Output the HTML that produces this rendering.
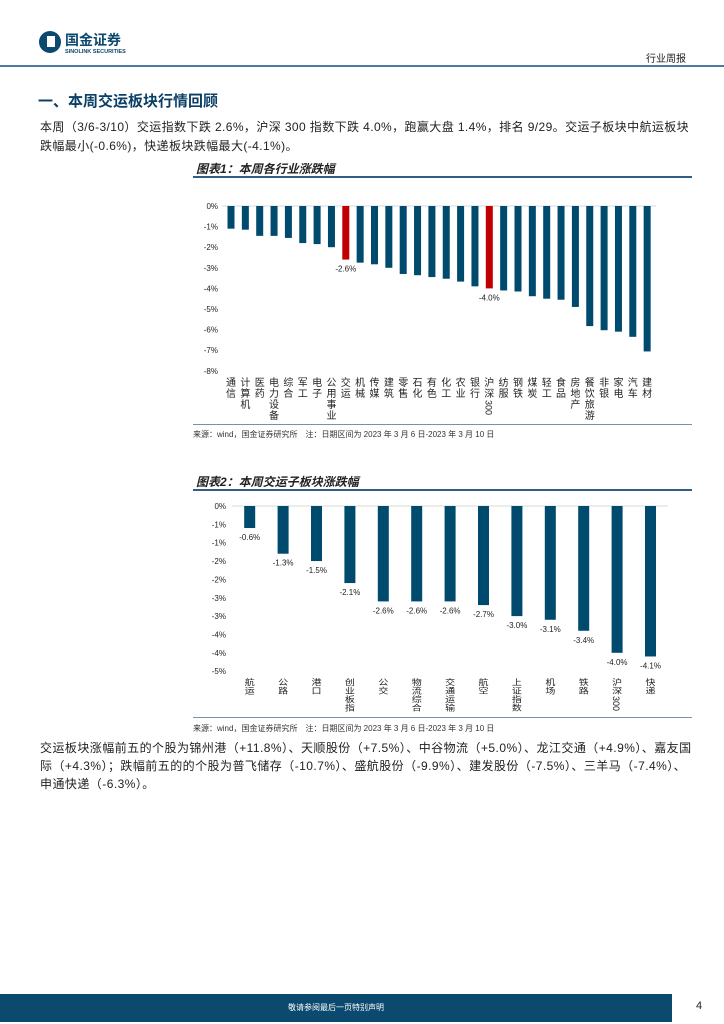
<!DOCTYPE html>
<html><head><meta charset="utf-8">
<style>
html,body{margin:0;padding:0;background:#fff;}
body{width:724px;height:1024px;position:relative;overflow:hidden;font-family:"Liberation Sans","Noto Sans CJK SC",sans-serif;color:#222;}
.abs{position:absolute;}
.p{font-size:12px;line-height:19px;left:40px;width:660px;white-space:nowrap;font-family:"Liberation Sans","Noto Sans CJK SC",sans-serif;}
.ttl{font-size:12px;font-weight:bold;font-style:italic;left:196px;}
.src{font-size:8px;left:193px;color:#333;}
</style></head><body>
<div class="abs" style="left:38px;top:30px;width:110px;height:24px;">
  <svg width="110" height="24"><circle cx="12" cy="12" r="11" fill="#0b4a6e"/><rect x="9" y="6" width="8" height="11" fill="#fff"/><text x="27" y="15" font-size="14" font-weight="bold" fill="#0b4a6e" font-family="Noto Sans CJK SC,sans-serif">国金证券</text><text x="27" y="23" font-size="5.5" font-weight="bold" fill="#0b4a6e" font-family="Liberation Sans,sans-serif">SINOLINK SECURITIES</text></svg>
</div>
<div class="abs" style="left:646px;top:50px;font-size:10px;">行业周报</div>
<div class="abs" style="left:0;top:65px;width:724px;height:2px;background:#4e7aa0;"></div>
<div class="abs" style="left:38px;top:90px;font-size:15px;font-weight:bold;color:#0b3f66;">一、本周交运板块行情回顾</div>
<div class="abs p" style="top:118px;letter-spacing:0.4px;">本周（3/6-3/10）交运指数下跌 2.6%，沪深 300 指数下跌 4.0%，跑赢大盘 1.4%，排名 9/29。交运子板块中航运板块<br>跌幅最小(-0.6%)，快递板块跌幅最大(-4.1%)。</div>
<div class="abs ttl" style="top:160px;">图表1：本周各行业涨跌幅</div>
<div class="abs" style="left:193px;top:176px;width:499px;height:2px;background:#2f5f86;"></div>
<div class="abs" style="left:193px;top:424px;width:499px;height:1px;background:#6f93b3;"></div>
<div class="abs src" style="top:429px;">来源：wind，国金证券研究所　注：日期区间为 2023 年 3 月 6 日-2023 年 3 月 10 日</div>
<div class="abs ttl" style="top:473px;">图表2：本周交运子板块涨跌幅</div>
<div class="abs" style="left:193px;top:489px;width:499px;height:2px;background:#2f5f86;"></div>
<div class="abs" style="left:193px;top:717px;width:499px;height:1px;background:#6f93b3;"></div>
<div class="abs src" style="top:723px;">来源：wind，国金证券研究所　注：日期区间为 2023 年 3 月 6 日-2023 年 3 月 10 日</div>
<div class="abs p" style="top:739px;line-height:18px;letter-spacing:0.45px;">交运板块涨幅前五的个股为锦州港（+11.8%）、天顺股份（+7.5%）、中谷物流（+5.0%）、龙江交通（+4.9%）、嘉友国<br>际（+4.3%）；跌幅前五的的个股为普飞储存（-10.7%）、盛航股份（-9.9%）、建发股份（-7.5%）、三羊马（-7.4%）、<br>申通快递（-6.3%）。</div>
<div class="abs" style="left:0;top:994px;width:672px;height:28px;background:#0b4a6e;color:#fff;font-size:8px;text-align:center;line-height:28px;">敬请参阅最后一页特别声明</div>
<div class="abs" style="left:696px;top:1000px;font-size:11px;">4</div>

<svg class="abs" id="c1" style="left:0;top:0" width="724" height="1024"></svg>
<script>
const cats1=["通信","计算机","医药","电力设备","综合","军工","电子","公用事业","交运","机械","传媒","建筑","零售","石化","有色","化工","农业","银行","沪深300","纺服","钢铁","煤炭","轻工","食品","房地产","餐饮旅游","非银","家电","汽车","建材"];
const vals1=[-1.1,-1.15,-1.45,-1.45,-1.55,-1.8,-1.85,-2.0,-2.6,-2.75,-2.83,-3.0,-3.3,-3.36,-3.45,-3.53,-3.67,-3.9,-4.0,-4.1,-4.15,-4.38,-4.5,-4.55,-4.9,-5.83,-6.03,-6.1,-6.35,-7.06];
const ticks1=["0%","-1%","-2%","-3%","-4%","-5%","-6%","-7%","-8%"];
const ticksVal1=[0,-1,-2,-3,-4,-5,-6,-7,-8];
const cats2=["航运","公路","港口","创业板指","公交","物流综合","交通运输","航空","上证指数","机场","铁路","沪深300","快递"];
const vals2=[-0.6,-1.3,-1.5,-2.1,-2.6,-2.6,-2.6,-2.7,-3.0,-3.1,-3.4,-4.0,-4.1];
const ticks2=["0%","-1%","-1%","-2%","-2%","-3%","-3%","-4%","-4%","-5%"];
const ticksVal2=[0,-0.5,-1,-1.5,-2,-2.5,-3,-3.5,-4,-4.5];
const NS="http://www.w3.org/2000/svg";
const svg=document.getElementById('c1');
function mk(t,a,p){const e=document.createElementNS(NS,t);for(const k in a)e.setAttribute(k,a[k]);(p||svg).appendChild(e);return e;}
function drawVLabel(g,x,y0,label,pitch,fs,sy){
  let y=y0;const m=label.match(/^(.*?)(\d+)$/);const chars=m?m[1]:label;
  for(const ch of chars){const t=mk('text',{x:0,y:0,'font-size':fs,'text-anchor':'middle',fill:'#222',transform:`translate(${x},${y+fs*0.9*sy}) scale(1,${sy})`},g);t.textContent=ch;y+=pitch;}
  if(m){const t=mk('text',{x:0,y:0,'font-size':fs-1,fill:'#222',transform:`translate(${x-fs/2+1},${y+1}) rotate(90)`},g);t.textContent=m[2];}
}
function chart(o){
  const g=mk('g',{});
  
  
  const ys=v=>o.y0+(-v)*o.ppu;
  const xs=i=>o.x0+i*o.step;
  o.tv.forEach((v,i)=>{const t=mk('text',{x:o.tx,y:ys(v)+3,'font-size':8,'text-anchor':'end',fill:'#222'},g);t.textContent=o.tl[i];});
  const ax=mk('line',{x1:o.axL,x2:o.axR,y1:o.y0,y2:o.y0,stroke:'#d9d9d9','stroke-width':1},g);
  
  o.vals.forEach((v,i)=>{
    const red=o.red&&o.red.includes(i);
    const r=mk('rect',{x:xs(i)-o.bw/2,y:o.y0,width:o.bw,height:ys(v)-o.y0,fill:red?'#c00000':'#004a6e'},g);
    
    if(o.showAll||red){const t=mk('text',{x:xs(i),y:ys(v)+o.lblOff,'font-size':8,'text-anchor':'middle',fill:'#222'},g);t.textContent=v.toFixed(1)+'%';}
    drawVLabel(g,xs(i),o.ly,o.cats[i],o.pitch,o.fs,o.sy);
  });
}
chart({name:'industry-chart',cats:cats1,vals:vals1,tl:ticks1,tv:ticksVal1,y0:206,ppu:20.6,x0:231,step:14.35,bw:7,tx:218,axL:222,axR:656,red:[8,18],showAll:false,lblOff:12,ly:377,pitch:11,fs:10,sy:1});
chart({name:'transport-subsector-chart',cats:cats2,vals:vals2,tl:ticks2,tv:ticksVal2,y0:506,ppu:36.7,x0:249.7,step:33.4,bw:11,tx:226,axL:232,axR:668,showAll:true,lblOff:12,ly:678,pitch:8.5,fs:10,sy:0.8});
</script>
</body></html>
